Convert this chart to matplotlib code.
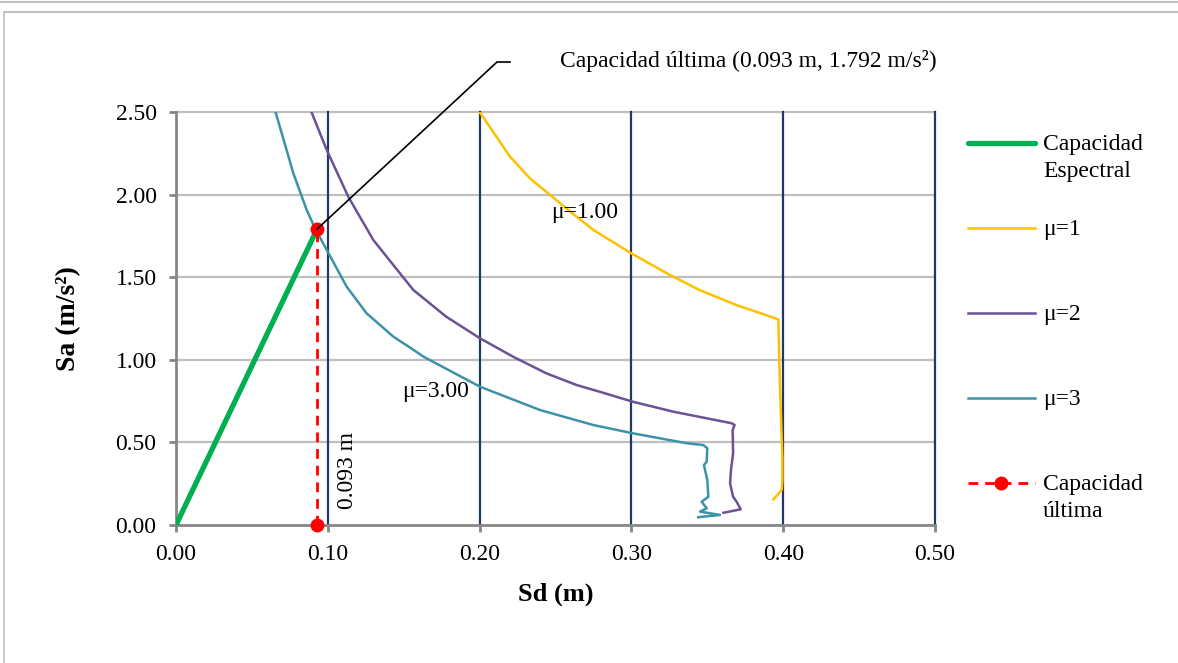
import matplotlib.pyplot as plt
from matplotlib.lines import Line2D

plt.rcParams['font.family'] = ['Liberation Serif', 'DejaVu Serif']

# capacity curve and ultimate point
cap_sd = [0.0, 0.093]
cap_sa = [0.0, 1.792]
ult_sd = 0.093
ult_sa = 1.792

# demand spectra (Sd in m, Sa in m/s2)
mu1_sd = [0.200, 0.220, 0.233, 0.2475, 0.2596, 0.275, 0.300, 0.3254, 0.345, 0.369, 0.3968,
          0.398, 0.3995, 0.3995, 0.399, 0.3935]
mu1_sa = [2.500, 2.230, 2.100, 1.990, 1.897, 1.786, 1.644, 1.513, 1.422, 1.332, 1.245,
          0.800, 0.400, 0.272, 0.212, 0.155]

mu2_sd = [0.0894, 0.0993, 0.1135, 0.1300, 0.1563, 0.1780, 0.2003, 0.2220, 0.2440, 0.2640,
          0.2790, 0.3010, 0.3276, 0.3660, 0.3680, 0.3667, 0.3670, 0.3656, 0.3650, 0.3670,
          0.3693, 0.3720, 0.3606]
mu2_sa = [2.496, 2.270, 1.987, 1.725, 1.423, 1.261, 1.130, 1.019, 0.918, 0.847,
          0.807, 0.746, 0.686, 0.616, 0.605, 0.575, 0.434, 0.333, 0.252, 0.171,
          0.141, 0.095, 0.074]

mu3_sd = [0.0657, 0.0773, 0.0861, 0.0916, 0.0993, 0.1124, 0.1256, 0.1432, 0.1560, 0.1630,
          0.2003, 0.2398, 0.2750, 0.3010, 0.3364, 0.3474, 0.3500, 0.3496, 0.3478, 0.3500,
          0.3507, 0.3463, 0.3496, 0.3452, 0.3584, 0.3440]
mu3_sa = [2.496, 2.129, 1.907, 1.796, 1.665, 1.443, 1.281, 1.140, 1.063, 1.019,
          0.837, 0.696, 0.605, 0.555, 0.495, 0.484, 0.464, 0.383, 0.363, 0.272,
          0.171, 0.141, 0.101, 0.081, 0.061, 0.047]

x_ticks = [0.0, 0.1, 0.2, 0.3, 0.4, 0.5]
y_ticks = [0.0, 0.5, 1.0, 1.5, 2.0, 2.5]

c_green = '#00B050'
c_yellow = '#FFC000'
c_purple = '#6A5294'
c_teal = '#3C93A8'
c_red = '#FF0000'
c_navy = '#1F3864'
c_grid = '#BFBFBF'
c_axis = '#868686'

FS = 17
W, H = 1178, 663
fig = plt.figure(figsize=(W / 100, H / 100), dpi=100)
ax = fig.add_axes([176 / W, 1 - 525 / H, (935 - 176) / W, (525 - 112) / H])

ax.set_xlim(0, 0.5)
ax.set_ylim(0, 2.5)

# grid lines
for y in y_ticks[1:]:
    ax.axhline(y, color=c_grid, lw=1.6, zorder=1, clip_on=False)
for x in x_ticks[1:]:
    ax.axvline(x, color=c_navy, lw=1.6, zorder=1, clip_on=False)

ax.plot(mu1_sd, mu1_sa, color=c_yellow, lw=1.8, zorder=3)
ax.plot(mu2_sd, mu2_sa, color=c_purple, lw=1.8, zorder=3)
ax.plot(mu3_sd, mu3_sa, color=c_teal, lw=1.8, zorder=3)
ax.plot(cap_sd, cap_sa, color=c_green, lw=3.8, solid_capstyle='round', zorder=4)
ax.plot([ult_sd, ult_sd], [0, ult_sa], color=c_red, lw=2, ls=(0, (3.5, 2.5)),
        marker='o', ms=9, zorder=5, clip_on=False)

# leader line from the ultimate point to the label
px, py = ax.transData.transform((ult_sd, ult_sa))
fig.add_artist(Line2D([px / W, 497 / W, 510 / W], [py / H, 1 - 62 / H, 1 - 62 / H],
                      color='black', lw=1.2, zorder=6))
fig.text(560 / W, 1 - 61 / H, 'Capacidad última (0.093 m, 1.792 m/s²)', fontsize=FS,
         ha='left', va='center')

ax.text(0.269, 1.89, 'μ=1.00', fontsize=FS, ha='center', va='center', zorder=6)
ax.text(0.171, 0.81, 'μ=3.00', fontsize=FS, ha='center', va='center', zorder=6)
ax.text(0.113, 0.33, '0.093 m', fontsize=FS, ha='center', va='center', rotation=90, zorder=6)

for s in ['top', 'right']:
    ax.spines[s].set_visible(False)
for s in ['left', 'bottom']:
    ax.spines[s].set_color(c_axis)
    ax.spines[s].set_linewidth(2)
ax.set_xticks(x_ticks)
ax.set_yticks(y_ticks)
ax.set_xticklabels([f'{v:.2f}' for v in x_ticks])
ax.set_yticklabels([f'{v:.2f}' for v in y_ticks])
ax.tick_params(direction='out', length=5, width=2, color=c_axis, labelsize=FS, pad=9)
ax.set_xlabel('Sd (m)', fontsize=19, fontweight='bold', labelpad=12)
ax.set_ylabel('Sa (m/s²)', fontsize=20, fontweight='bold', labelpad=25)

# legend drawn at fixed slots
entries = [
    ('Capacidad\nEspectral', dict(color=c_green, lw=3.8, solid_capstyle='round')),
    ('μ=1', dict(color=c_yellow, lw=1.8)),
    ('μ=2', dict(color=c_purple, lw=1.8)),
    ('μ=3', dict(color=c_teal, lw=1.8)),
    ('Capacidad\núltima', dict(color=c_red, lw=2, ls=(0, (3.5, 2.5)))),
]
for i, (label, style) in enumerate(entries):
    yp = 143 + 85 * i
    fig.add_artist(Line2D([968 / W, 1035 / W], [1 - yp / H, 1 - yp / H], **style))
    if i == 4:
        fig.add_artist(Line2D([1001 / W], [1 - yp / H], color=c_red, marker='o', ms=9))
    fig.text(1043 / W, 1 - (yp - 9) / H, label, fontsize=FS, ha='left', va='top',
             linespacing=1.4)

# outer chart frame (cropped)
fig.add_artist(Line2D([0, 1], [1 - 1.5 / H, 1 - 1.5 / H], color=c_grid, lw=1.5))
fig.add_artist(Line2D([5 / W, 1], [1 - 11.5 / H, 1 - 11.5 / H], color=c_grid, lw=1.5))
fig.add_artist(Line2D([4 / W, 4 / W], [0, 1 - 11.5 / H], color=c_grid, lw=1.2))

fig.savefig('out.png', dpi=100)
